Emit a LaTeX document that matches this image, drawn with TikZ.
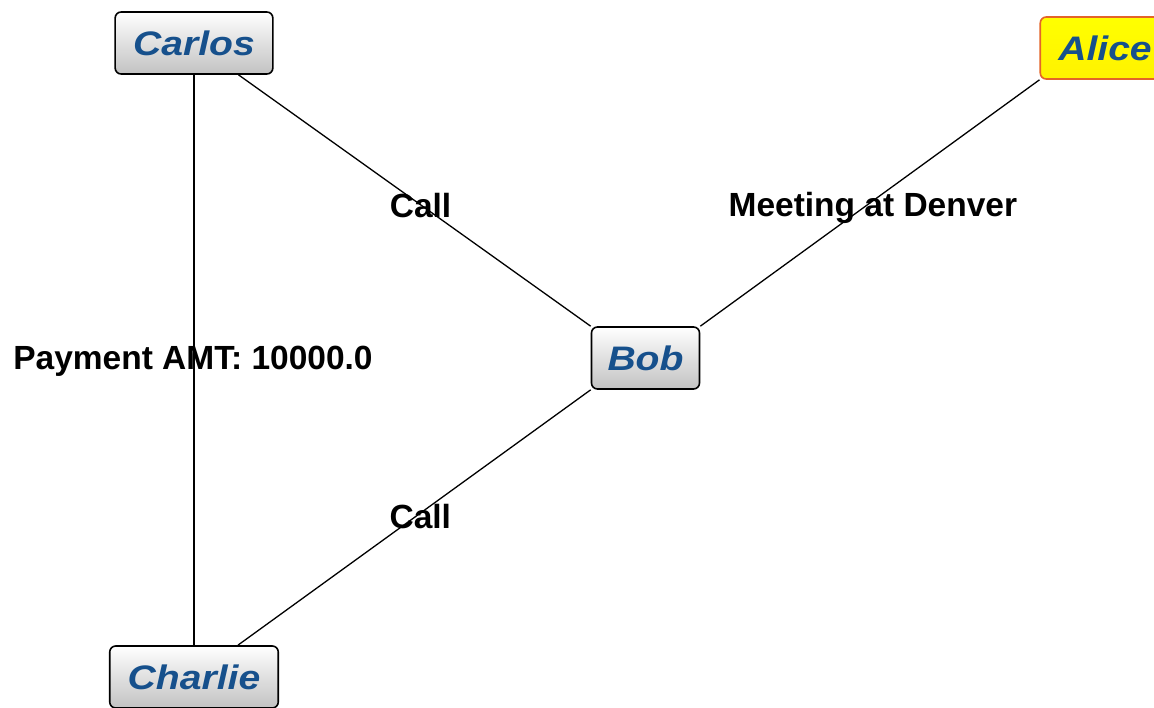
\documentclass[tikz,border=0pt]{standalone}
\usepackage{fontspec}
\setmainfont{Liberation Sans}
\newfontfamily\nodefont[FakeStretch=1.15]{Liberation Sans}
\definecolor{nametext}{RGB}{22,80,140}
\definecolor{edgeorange}{RGB}{228,100,40}
\begin{document}
\begin{tikzpicture}[x=1pt,y=-1pt,
  person/.style={draw=black, line width=1.6pt, rounded corners=6pt,
    top color=white, bottom color=black!24,
    minimum height=62pt, inner xsep=18pt, inner ysep=0pt,
    font=\nodefont\fontsize{34}{40}\selectfont\bfseries\itshape,
    text=nametext},
  focus/.style={person, draw=edgeorange, top color=yellow, bottom color=yellow!90!orange},
  link/.style={draw=black, line width=1.3pt},
  tag/.style={font=\fontsize{33.5}{40}\selectfont\bfseries, text=black, inner sep=0pt}]
  \useasboundingbox (0,0) rectangle (1154,707);
  \clip (0,0) rectangle (1154,707);

  % people
  \node[person] (carlos)  at (194,43)  {Carlos};
  \node[person, inner xsep=16pt] (bob) at (645.5,358) {Bob};
  \node[person] (charlie) at (194,677) {Charlie};
  \node[focus]  (alice)   at (1105,48) {Alice};

  % relations
  \path[link] (carlos) -- node[tag, pos=0.5, xshift=6pt, yshift=-5pt] {Call} (bob.north west);
  \path[link] (bob.north east) -- node[tag, pos=0.5, xshift=3pt, yshift=-5pt] {Meeting at Denver} (alice.south west);
  \path[link] (bob.south west) -- node[tag, pos=0.5, xshift=6pt, yshift=1pt] {Call} (charlie);
  \path[link] (carlos) -- node[tag, pos=0.5, xshift=-1pt, yshift=-1pt] {Payment AMT: 10000.0} (charlie);
\end{tikzpicture}
\end{document}
